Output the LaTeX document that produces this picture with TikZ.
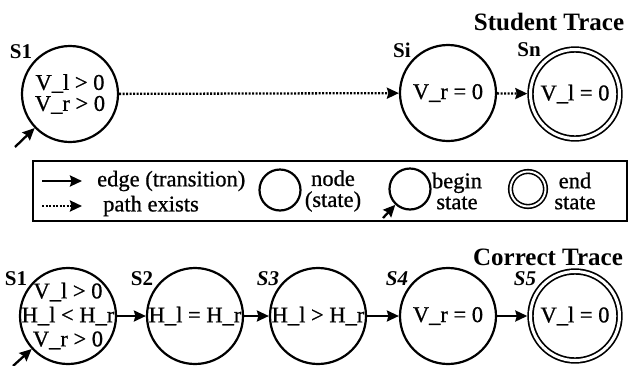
\documentclass[tikz,border=0pt]{standalone}
\usepackage{fontspec}
\setmainfont{Liberation Serif}
\newfontfamily\heavyfont{Liberation Serif}[FakeBold=0.8]
\usetikzlibrary{arrows.meta}
\begin{document}
\begin{tikzpicture}[x=1pt,y=-1pt,
  stnode/.style={circle,draw,line width=2.2pt,minimum size=96pt,inner sep=0pt},
  endnode/.style={circle,draw,double,double distance=3pt,line width=1.7pt,minimum size=89pt,inner sep=0pt,outer sep=3.2pt},
  txt/.style={font=\heavyfont\fontsize{22.5}{21}\selectfont,align=center,inner sep=0pt},
  lab/.style={font=\fontsize{21}{21}\selectfont\bfseries,inner sep=0pt},
  labi/.style={font=\fontsize{21}{21}\selectfont\bfseries\itshape,inner sep=0pt},
  ttl/.style={font=\fontsize{25}{25}\selectfont\bfseries,inner sep=0pt},
  tr/.style={line width=2.3pt,-{Stealth[length=12pt,width=11pt,inset=1.5pt]}},
  pth/.style={tr,dash pattern=on 2pt off 1.5pt},
]
\fill[white] (0,0) rectangle (630,365);
\useasboundingbox (0,0) rectangle (630,365);

% Student trace
\node[ttl] (tt1) at (549,22) {Student Trace};
\node[stnode] (s1) at (70,94) {};
\node[txt] (s1t) at (s1) {V\_l > 0\\V\_r > 0};
\node[stnode] (si) at (448,93) {};
\node[txt] (sit) at (si) {V\_r = 0};
\node[endnode] (sn) at (575,94) {};
\node[txt] (snt) at (sn) {V\_l = 0};
\node[lab] (ls1) at (21,52) {S1};
\node[lab] (lsi) at (402,50) {Si};
\node[lab] (lsn) at (529,50) {Sn};
\coordinate (b1) at (15,147);
\draw[tr] (b1) -- (s1);
\draw[pth] (s1) -- (si);
\draw[pth] (si) -- (sn);

% Legend
\node[draw,line width=2.6pt,minimum width=594pt,minimum height=60pt,inner sep=0pt] (box) at (330,191) {};
\coordinate (e1a) at (42,181);
\coordinate (e1b) at (82,181);
\draw[tr] (e1a) -- (e1b);
\coordinate (e2a) at (42,206);
\coordinate (e2b) at (82,206);
\draw[pth] (e2a) -- (e2b);
\node[txt,anchor=west] (et) at (97,181) {edge (transition)};
\node[txt,anchor=west] (pt) at (103,206) {path exists};
\node[stnode,minimum size=41pt] (ln) at (280,190) {};
\node[txt] (lnt) at (333,191) {node\\(state)};
\node[stnode,minimum size=41pt] (lb) at (410,189) {};
\coordinate (lbb) at (383,218);
\draw[tr] (lbb) -- (lb);
\node[txt] (lbt) at (457,191) {begin\\state};
\node[endnode,minimum size=35pt,double distance=2pt,line width=1.6pt,outer sep=2.6pt] (le) at (528,189) {};
\node[txt] (let) at (575,191) {end\\state};

% Correct trace
\node[ttl] (tt2) at (548,257) {Correct Trace};
\node[stnode] (c1) at (68,316) {};
\node[txt,font=\heavyfont\fontsize{22.5}{24}\selectfont] (c1t) at (c1) {V\_l > 0\\H\_l < H\_r\\V\_r > 0};
\node[stnode] (c2) at (195,316) {};
\node[txt] (c2t) at (c2) {H\_l = H\_r};
\node[stnode] (c3) at (318,316) {};
\node[txt] (c3t) at (c3) {H\_l > H\_r};
\node[stnode] (c4) at (448,316) {};
\node[txt] (c4t) at (c4) {V\_r = 0};
\node[endnode] (c5) at (575,316) {};
\node[txt] (c5t) at (c5) {V\_l = 0};
\node[lab] (lc1) at (16,279) {S1};
\node[lab] (lc2) at (142,279) {S2};
\node[labi] (lc3) at (268,279) {S3};
\node[labi] (lc4) at (397,279) {S4};
\node[labi] (lc5) at (525,279) {S5};
\coordinate (b2) at (13,366);
\draw[tr] (b2) -- (c1);
\draw[tr] (c1) -- (c2);
\draw[tr] (c2) -- (c3);
\draw[tr] (c3) -- (c4);
\draw[tr] (c4) -- (c5);
\end{tikzpicture}
\end{document}
